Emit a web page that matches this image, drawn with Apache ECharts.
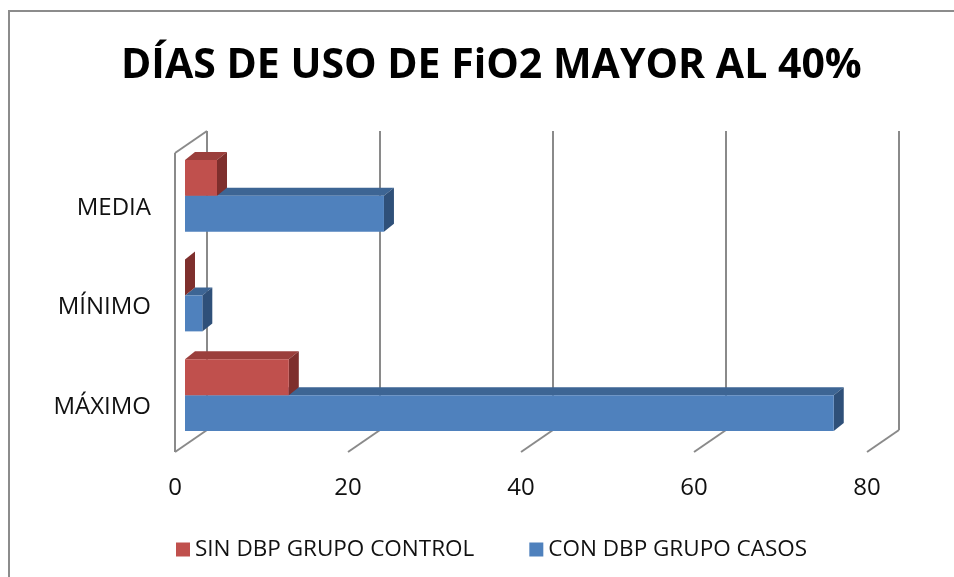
<!DOCTYPE html>
<html><head><meta charset="utf-8">
<script src="https://cdn.jsdelivr.net/npm/echarts@6/dist/echarts.min.js"></script>
<style>html,body{margin:0;padding:0;background:#fff}#c{width:954px;height:577px}</style>
</head><body><div id="c"></div>
<script>
var title = 'DÍAS DE USO DE FiO2 MAYOR AL 40%';
var categories = ['MÁXIMO', 'MÍNIMO', 'MEDIA'];
var seriesNames = ['SIN DBP GRUPO CONTROL', 'CON DBP GRUPO CASOS'];
var sinDbp = [12, 0, 3.7];
var conDbp = [75, 2, 23];
var xTicks = [0, 20, 40, 60, 80];

var DEPTH = [32, -22];      // wall depth offset (px)
var BAR_OFF = [10, -7];     // bar front plane offset from front plane
var BAR_DEPTH = [10, -8];   // bar own depth
var BAR_FRAC = 0.36;        // bar thickness as fraction of band

var colors = {
  red: {front: '#C0504D', top: '#9B3F3C', side: '#7E2F2D'},
  blue: {front: '#4F81BD', top: '#3D6594', side: '#2F5079'}
};
var gridColor = '#8A8A8A';
var FONT = 'Open Sans';

function barRender(which) {
  return function (params, api) {
    var val = api.value(0), cat = api.value(1);
    var p0 = api.coord([0, cat]);
    var p1 = api.coord([val, cat]);
    var band = api.size([0, 1])[1];
    var h = band * BAR_FRAC;
    var x0 = p0[0] + BAR_OFF[0], x1 = p1[0] + BAR_OFF[0];
    var yc = p0[1] + BAR_OFF[1];
    var yTop = which === 'red' ? yc - h : yc;
    var yBot = yTop + h;
    var c = colors[which];
    var dx = BAR_DEPTH[0], dy = BAR_DEPTH[1];
    return {
      type: 'group',
      children: [
        {type: 'polygon', shape: {points: [[x0, yTop], [x1, yTop], [x1 + dx, yTop + dy], [x0 + dx, yTop + dy]]}, style: {fill: c.top}},
        {type: 'polygon', shape: {points: [[x1, yTop], [x1 + dx, yTop + dy], [x1 + dx, yBot + dy], [x1, yBot]]}, style: {fill: c.side}},
        {type: 'rect', shape: {x: x0, y: yTop, width: Math.max(0, x1 - x0), height: h}, style: {fill: c.front}}
      ]
    };
  };
}

function wallRender(params, api) {
  var v = api.value(0);
  var cats = categories.length;
  var pb = api.coord([v, 0]);
  var band = api.size([0, 1])[1];
  var bottomY = pb[1] + band / 2;
  var topY = bottomY - band * cats;
  var x = pb[0];
  var children = [
    {type: 'line', shape: {x1: x + DEPTH[0], y1: topY + DEPTH[1], x2: x + DEPTH[0], y2: bottomY + DEPTH[1]}, style: {stroke: gridColor, lineWidth: 2}},
    {type: 'line', shape: {x1: x, y1: bottomY, x2: x + DEPTH[0], y2: bottomY + DEPTH[1]}, style: {stroke: gridColor, lineWidth: 2}}
  ];
  if (params.dataIndex === 0) {
    children.push({type: 'line', shape: {x1: x, y1: topY, x2: x, y2: bottomY}, style: {stroke: gridColor, lineWidth: 2}});
    children.push({type: 'line', shape: {x1: x, y1: topY, x2: x + DEPTH[0], y2: topY + DEPTH[1]}, style: {stroke: gridColor, lineWidth: 2}});
  }
  return {type: 'group', children: children};
}

var chart = echarts.init(document.getElementById('c'), null, {renderer: 'canvas'});
chart.setOption({
  animation: false,
  backgroundColor: '#fff',
  graphic: [{type: 'rect', shape: {x: 9, y: 11, width: 1000, height: 700}, style: {fill: 'none', stroke: '#8C8C8C', lineWidth: 2}, z: -10}],
  title: {
    text: title, left: 116, top: 41,
    textStyle: {fontFamily: FONT, fontWeight: 'bold', fontSize: 41, color: '#000'}
  },
  legend: {
    bottom: 11, left: 171, itemGap: 55, itemWidth: 14, itemHeight: 14, itemTextGap: 8, icon: 'rect',
    textStyle: {fontFamily: FONT, fontSize: 22.5, color: '#111'},
    data: [{name: seriesNames[0], itemStyle: {color: colors.red.front}}, {name: seriesNames[1], itemStyle: {color: colors.blue.front}}]
  },
  grid: {left: 175, top: 153, width: 692, height: 299},
  xAxis: {
    type: 'value', min: 0, max: 80, interval: 20,
    axisLine: {show: false}, axisTick: {show: false}, splitLine: {show: false},
    axisLabel: {margin: 24, fontFamily: FONT, fontSize: 24, color: '#111'}
  },
  yAxis: {
    type: 'category', data: categories,
    axisLine: {show: false}, axisTick: {show: false},
    axisLabel: {margin: 24, fontFamily: FONT, fontSize: 24, color: '#111', verticalAlign: 'top', lineHeight: 10}
  },
  series: [
    {type: 'custom', name: 'walls', renderItem: wallRender, data: xTicks.map(function (t) { return [t, 0]; }), silent: true, z: 1, legendHoverLink: false},
    {type: 'custom', name: seriesNames[1], renderItem: barRender('blue'), itemStyle: {color: colors.blue.front}, data: conDbp.map(function (v, i) { return [v, i]; }), z: 2},
    {type: 'custom', name: seriesNames[0], renderItem: barRender('red'), itemStyle: {color: colors.red.front}, data: sinDbp.map(function (v, i) { return [v, i]; }), z: 3}
  ]
});
</script>
</body></html>
